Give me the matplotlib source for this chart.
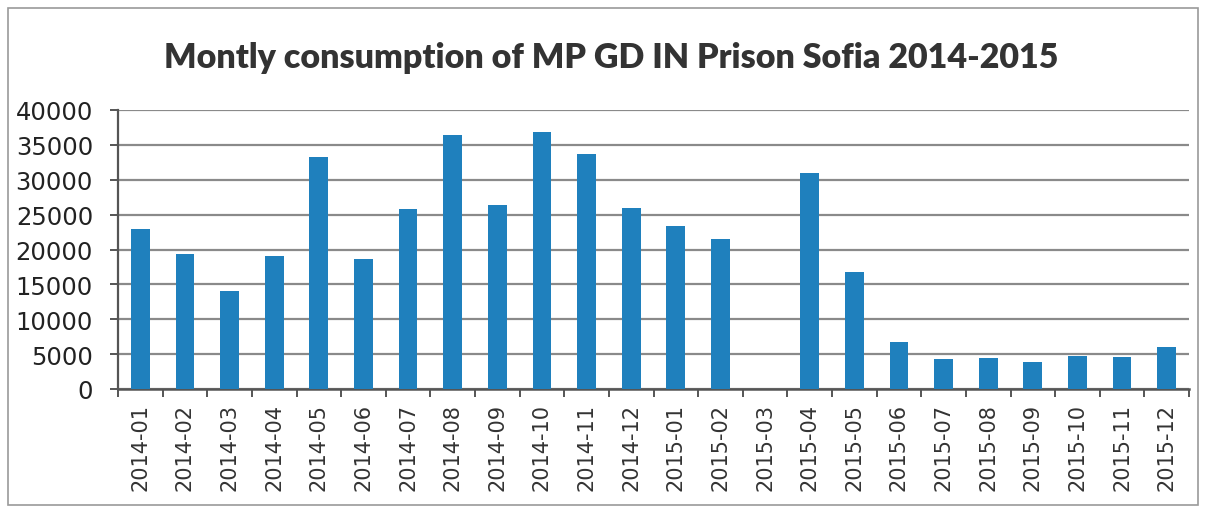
import matplotlib
matplotlib.use("Agg")
import matplotlib.pyplot as plt
from matplotlib.patches import Rectangle
import numpy as np

months = ["2014-01", "2014-02", "2014-03", "2014-04", "2014-05", "2014-06",
          "2014-07", "2014-08", "2014-09", "2014-10", "2014-11", "2014-12",
          "2015-01", "2015-02", "2015-03", "2015-04", "2015-05", "2015-06",
          "2015-07", "2015-08", "2015-09", "2015-10", "2015-11", "2015-12"]
consumption = [22900, 19300, 14000, 19100, 33300, 18700,
               25800, 36400, 26400, 36800, 33700, 25900,
               23400, 21500, 0, 31000, 16800, 6700,
               4300, 4400, 3800, 4700, 4600, 6000]
yticks = [0, 5000, 10000, 15000, 20000, 25000, 30000, 35000, 40000]
title = "Montly consumption of MP GD IN Prison Sofia 2014-2015"

bar_color = "#1f80bd"
grid_color = "#8a8a8a"
axis_color = "#555555"

fig = plt.figure(figsize=(12.05, 5.1), dpi=100)
fig.patch.set_facecolor("white")
# outer frame
fig.patches.append(Rectangle((8/1205, 4/510), 1190/1205, 497/510, transform=fig.transFigure,
                             fill=False, edgecolor="#9a9a9a", linewidth=1.2))

ax = fig.add_axes([118/1205, (510-390)/510, 1071/1205, (390-111)/510])
x = np.arange(len(months))
ax.bar(x, consumption, width=0.42, color=bar_color, zorder=3)

ax.set_xlim(-0.5, len(months) - 0.5)
ax.set_ylim(0, 40000)
ax.set_yticks(yticks)
ax.set_yticklabels([str(v) for v in yticks], fontsize=17.5, family="DejaVu Sans", color="#222222")
ax.yaxis.grid(True, color=grid_color, linewidth=1.6, zorder=0)
ax.set_axisbelow(True)

ax.set_xticks(x)
ax.set_xticklabels(months, rotation=90, fontsize=15, color="#333333", family="DejaVu Sans")
ax.set_xticks(np.arange(-0.5, len(months), 1.0), minor=True)
ax.tick_params(axis="x", which="major", length=0, pad=10)
ax.tick_params(axis="x", which="minor", length=6, width=1.4, color=axis_color, direction="out")
ax.tick_params(axis="y", length=6, width=1.4, color=axis_color, direction="out", pad=12)

for s in ["top", "right"]:
    ax.spines[s].set_visible(False)
ax.spines["left"].set_color(axis_color)
ax.spines["left"].set_linewidth(1.6)
ax.spines["bottom"].set_color(axis_color)
ax.spines["bottom"].set_linewidth(1.8)

fig.text(611/1205, (510-58)/510, title, ha="center", va="center",
         fontsize=24.5, fontweight="heavy", color="#333333", family="Lato")

fig.savefig("out.png", dpi=100)
